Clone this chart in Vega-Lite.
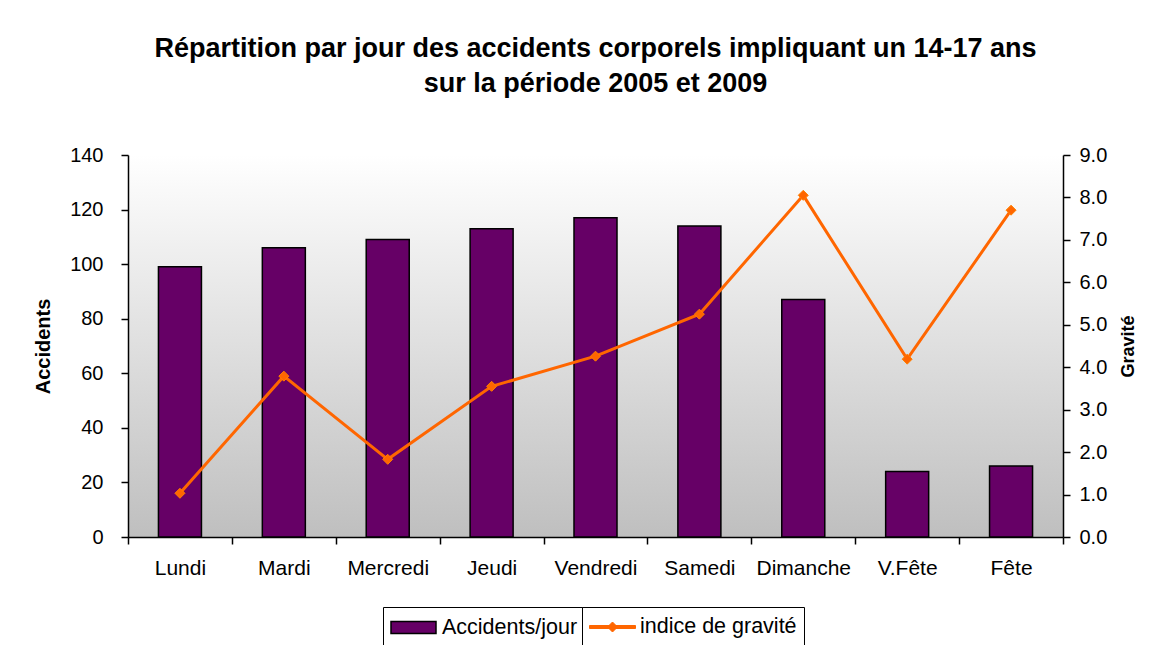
{
  "$schema": "https://vega.github.io/schema/vega-lite/v6.json",
  "width": 935,
  "height": 382,
  "padding": {"left": 33, "top": 35, "right": 5, "bottom": 0},
  "background": "white",
  "title": {
    "text": ["Répartition par  jour des accidents corporels impliquant un 14-17 ans", "sur la période 2005 et 2009"],
    "font": "Liberation Sans",
    "fontSize": 27,
    "fontWeight": "bold",
    "color": "#000",
    "lineHeight": 35,
    "anchor": "middle",
    "offset": 47
  },
  "data": {
    "values": [
      {"jour": "Lundi", "accidents": 99, "gravite": 1.03},
      {"jour": "Mardi", "accidents": 106, "gravite": 3.79},
      {"jour": "Mercredi", "accidents": 109, "gravite": 1.83},
      {"jour": "Jeudi", "accidents": 113, "gravite": 3.55},
      {"jour": "Vendredi", "accidents": 117, "gravite": 4.26},
      {"jour": "Samedi", "accidents": 114, "gravite": 5.25},
      {"jour": "Dimanche", "accidents": 87, "gravite": 8.05},
      {"jour": "V.Fête", "accidents": 24, "gravite": 4.19},
      {"jour": "Fête", "accidents": 26, "gravite": 7.7}
    ]
  },
  "encoding": {
    "x": {
      "field": "jour",
      "type": "nominal",
      "sort": null,
      "scale": {"paddingInner": 0, "paddingOuter": 0},
      "axis": {"title": null, "labelAngle": 0, "tickBand": "extent", "labelPadding": 13, "labelFontSize": 21, "domainWidth": 1.5, "tickWidth": 1.5}
    }
  },
  "layer": [
    {
      "mark": {"type": "bar", "width": {"band": 0.414}, "stroke": "#000", "strokeWidth": 1.5},
      "encoding": {
        "y": {
          "field": "accidents",
          "type": "quantitative",
          "scale": {"domain": [0, 140], "nice": false},
          "axis": {
            "title": "Accidents",
            "titleFontSize": 20,
            "values": [0, 20, 40, 60, 80, 100, 120, 140],
            "labelPadding": 18,
            "titlePadding": 16,
            "domainWidth": 1.5,
            "tickWidth": 1.5
          }
        },
        "color": {
          "datum": "Accidents/jour",
          "scale": {"domain": ["Accidents/jour"], "range": ["#660066"]},
          "legend": {
            "title": null,
            "orient": "none",
            "legendX": 255,
            "legendY": 452,
            "direction": "horizontal",
            "strokeColor": "#000",
            "fillColor": "#fff",
            "padding": 7,
            "symbolSize": 625,
            "labelOffset": 25,
            "labelFontSize": 21.5,
            "labelFont": "Liberation Sans",
            "labelColor": "#000",
            "symbolType": "M-1,-0.48H2.6V0.48H-1Z",
            "symbolStrokeColor": "#000",
            "symbolStrokeWidth": 1.5,
            "symbolOpacity": 1
          }
        }
      }
    },
    {
      "layer": [
        {
          "mark": {"type": "line", "strokeWidth": 3, "color": "#ff6600"},
          "encoding": {
            "y": {
              "field": "gravite",
              "type": "quantitative",
              "scale": {"domain": [0, 9], "nice": false},
              "axis": {
                "orient": "right",
                "title": "Gravité",
                "titleFontSize": 18,
                "titleAngle": 270,
                "titleBaseline": "top",
                "format": ".1f",
                "values": [0, 1, 2, 3, 4, 5, 6, 7, 8, 9],
                "labelPadding": 9,
                "titlePadding": 13,
                "domainWidth": 1.5,
                "tickWidth": 1.5
              }
            }
          }
        },
        {
          "mark": {"type": "point", "shape": "diamond", "filled": true, "size": 100, "stroke": "#ff8000", "strokeWidth": 1, "opacity": 1},
          "encoding": {
            "y": {"field": "gravite", "type": "quantitative"},
            "fill": {
              "datum": "indice de gravité",
              "scale": {"domain": ["indice de gravité"], "range": ["#ff6600"]},
              "legend": {
                "title": null,
                "orient": "none",
                "legendX": 454,
                "legendY": 452,
                "direction": "horizontal",
                "strokeColor": "#000",
                "fillColor": "#fff",
                "padding": 7,
                "symbolSize": 625,
                "labelOffset": 25,
                "labelFontSize": 21.5,
                "labelFont": "Liberation Sans",
                "labelColor": "#000",
                "symbolType": "M-1,-0.12H2.68V0.12H-1Z M0.84,-0.4L1.24,0L0.84,0.4L0.44,0Z",
                "symbolStrokeColor": "#ff6600",
                "symbolStrokeWidth": 1,
                "symbolOpacity": 1
              }
            }
          }
        }
      ]
    }
  ],
  "resolve": {"scale": {"y": "independent"}},
  "config": {
    "axis": {
      "labelFont": "Liberation Sans",
      "labelFontSize": 20,
      "labelColor": "#000",
      "domainColor": "#000",
      "tickColor": "#000",
      "tickSize": 7,
      "grid": false,
      "titleFont": "Liberation Sans",
      "titleColor": "#000",
      "titleFontWeight": "bold"
    },
    "view": {
      "stroke": null,
      "fill": {
        "gradient": "linear",
        "x1": 0, "y1": 0, "x2": 0, "y2": 1,
        "stops": [{"offset": 0, "color": "#ffffff"}, {"offset": 1, "color": "#bfbfbf"}]
      }
    }
  }
}
